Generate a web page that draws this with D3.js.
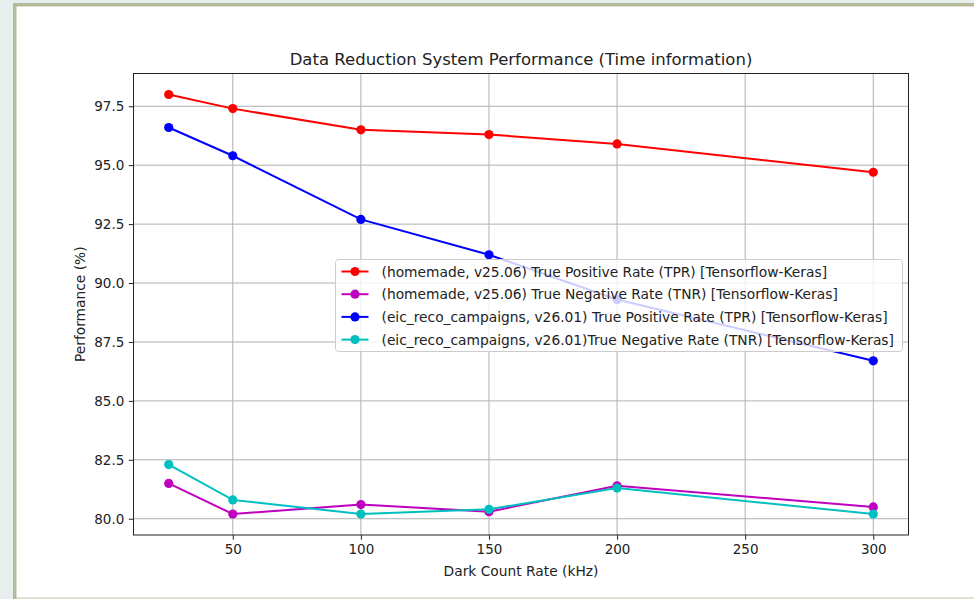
<!DOCTYPE html>
<html><head><meta charset="utf-8">
<script src="https://cdn.jsdelivr.net/npm/d3@7"></script>
<style>
html,body{margin:0;padding:0;background:#e7efee;}
svg{display:block;font-family:"DejaVu Sans",sans-serif;}
</style></head>
<body><svg id="c" width="974" height="599"></svg>
<script>
const rates = [25, 50, 100, 150, 200, 300];
const tprHomemade = [98.0, 97.4, 96.5, 96.3, 95.9, 94.7];
const tnrHomemade = [81.5, 80.2, 80.6, 80.3, 81.4, 80.5];
const tprEic = [96.6, 95.4, 92.7, 91.2, 89.3, 86.7];
const tnrEic = [82.3, 80.8, 80.2, 80.4, 81.3, 80.2];
const seriesNames = [
  "(homemade, v25.06) True Positive Rate (TPR) [Tensorflow-Keras]",
  "(homemade, v25.06) True Negative Rate (TNR) [Tensorflow-Keras]",
  "(eic_reco_campaigns, v26.01) True Positive Rate (TPR) [Tensorflow-Keras]",
  "(eic_reco_campaigns, v26.01)True Negative Rate (TNR) [Tensorflow-Keras]"
];
const seriesColors = ["#ff0000", "#bf00bf", "#0000ff", "#00bfbf"];
const xTicks = [50, 100, 150, 200, 250, 300];
const yTicks = [80.0, 82.5, 85.0, 87.5, 90.0, 92.5, 95.0, 97.5];
const titleText = "Data Reduction System Performance (Time information)";
const xLabel = "Dark Count Rate (kHz)";
const yLabel = "Performance (%)";

const series = [tprHomemade, tnrHomemade, tprEic, tnrEic];

const svg = d3.select("#c");
// frame
svg.append("rect").attr("x",0).attr("y",0).attr("width",974).attr("height",599).attr("fill","#e7efee");
svg.append("rect").attr("x",13).attr("y",3).attr("width",961).attr("height",596).attr("fill","#b6ba98");
svg.append("rect").attr("x",16.5).attr("y",6.5).attr("width",957.5).attr("height",590.5).attr("fill","#ffffff");
svg.append("rect").attr("x",16.5).attr("y",597).attr("width",957.5).attr("height",2).attr("fill","#dfe3d6");

const L = 133.5, R = 908.5, T = 73.5, B = 535;
const allVals = series.flat();
const yMin = d3.min(allVals), yMax = d3.max(allVals);
const yPad = (yMax - yMin) * 0.05;
const xMin = d3.min(rates), xMax = d3.max(rates);
const xPad = (xMax - xMin) * 0.05;
const x = d3.scaleLinear().domain([xMin - xPad, xMax + xPad]).range([L, R]);
const y = d3.scaleLinear().domain([yMin - yPad, yMax + yPad]).range([B, T]);

const g = svg.append("g");
// grid
g.selectAll(".gx").data(xTicks).join("line")
  .attr("x1", d => x(d)).attr("x2", d => x(d)).attr("y1", T).attr("y2", B)
  .attr("stroke", "#b0b0b0").attr("stroke-width", 1);
g.selectAll(".gy").data(yTicks).join("line")
  .attr("y1", d => y(d)).attr("y2", d => y(d)).attr("x1", L).attr("x2", R)
  .attr("stroke", "#b0b0b0").attr("stroke-width", 1);

// axes
const xAxis = d3.axisBottom(x).tickValues(xTicks).tickFormat(d3.format("d")).tickSize(4.7).tickPadding(4.5);
const yAxis = d3.axisLeft(y).tickValues(yTicks).tickFormat(d3.format(".1f")).tickSize(4.7).tickPadding(4.5);
const gx = svg.append("g").attr("transform", `translate(0,${B})`).call(xAxis);
const gy = svg.append("g").attr("transform", `translate(${L},0)`).call(yAxis);
[gx, gy].forEach(a => {
  a.select(".domain").remove();
  a.selectAll("line").attr("stroke", "#222").attr("stroke-width", 1);
  a.selectAll("text").attr("font-size", 13.5).attr("fill", "#222").attr("font-family", "DejaVu Sans");
});

// lines
const line = d3.line().x((d, i) => x(rates[i])).y(d => y(d));
series.forEach((s, k) => {
  svg.append("path").datum(s).attr("d", line).attr("fill", "none")
    .attr("stroke", seriesColors[k]).attr("stroke-width", 2);
  svg.selectAll(null).data(s).join("circle")
    .attr("cx", (d, i) => x(rates[i])).attr("cy", d => y(d)).attr("r", 4.6)
    .attr("fill", seriesColors[k]);
});

// spines
svg.append("rect").attr("x", L).attr("y", T).attr("width", R - L).attr("height", B - T)
  .attr("fill", "none").attr("stroke", "#222").attr("stroke-width", 1);

// title & labels
svg.append("text").attr("x", (L + R) / 2).attr("y", 65).attr("text-anchor", "middle")
  .attr("font-size", 16.5).attr("fill", "#222").text(titleText);
svg.append("text").attr("x", (L + R) / 2).attr("y", 576).attr("text-anchor", "middle")
  .attr("font-size", 13.8).attr("fill", "#222").text(xLabel);
svg.append("text").attr("transform", `translate(84.5,${(T + B) / 2}) rotate(-90)`).attr("text-anchor", "middle")
  .attr("font-size", 13.8).attr("fill", "#222").text(yLabel);

// legend
const lg = svg.append("g");
const lx = 335.5, ly = 259.5, lw = 567, lh = 92;
lg.append("rect").attr("x", lx).attr("y", ly).attr("width", lw).attr("height", lh).attr("rx", 3)
  .attr("fill", "#ffffff").attr("fill-opacity", 0.8).attr("stroke", "#cccccc").attr("stroke-width", 1);
seriesNames.forEach((name, k) => {
  const cy = ly + 12 + k * 22.7;
  lg.append("line").attr("x1", lx + 6).attr("x2", lx + 33).attr("y1", cy).attr("y2", cy)
    .attr("stroke", seriesColors[k]).attr("stroke-width", 2);
  lg.append("circle").attr("cx", lx + 19.5).attr("cy", cy).attr("r", 4.6).attr("fill", seriesColors[k]);
  lg.append("text").attr("x", lx + 46).attr("y", cy + 5).attr("font-size", 13.8).attr("fill", "#222").text(name);
});
</script></body></html>
